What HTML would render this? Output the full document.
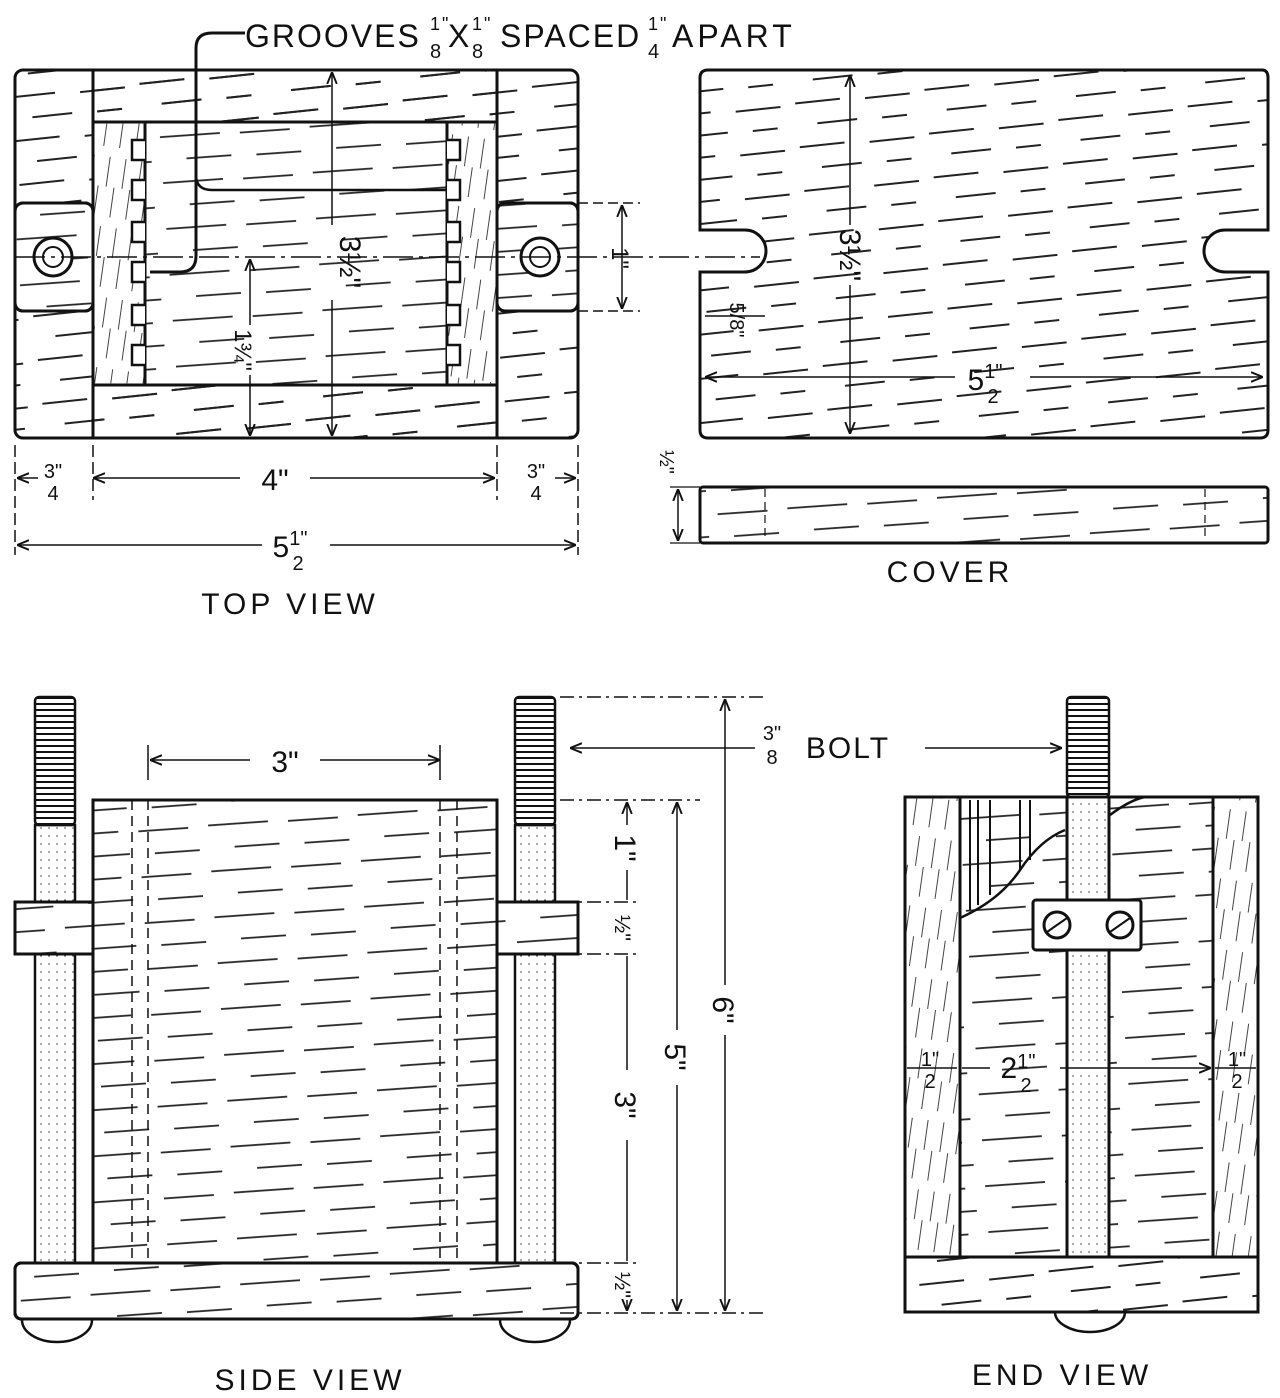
<!DOCTYPE html>
<html><head><meta charset="utf-8"><style>
html,body{margin:0;padding:0;background:#fff;}
svg{display:block}
text{font-family:"Liberation Sans",sans-serif;fill:#111;}
</style></head><body>
<svg width="1280" height="1398" viewBox="0 0 1280 1398" xmlns="http://www.w3.org/2000/svg">
<defs>
<pattern id="gh" width="130" height="44" patternUnits="userSpaceOnUse" patternTransform="rotate(-6)">
<path d="M0 10 H45 M70 12 H115 M20 32 H60 M85 33 H110" stroke="#222" stroke-width="2" fill="none"/>
</pattern>
<pattern id="gh2" width="150" height="46" patternUnits="userSpaceOnUse" patternTransform="rotate(-4)">
<path d="M0 10 H60 M80 11 H130 M25 33 H70 M95 34 H140" stroke="#222" stroke-width="1.8" fill="none"/>
</pattern>
<pattern id="gv" width="16" height="70" patternUnits="userSpaceOnUse" patternTransform="rotate(8)">
<path d="M3 0 V30 M11 30 V60" stroke="#444" stroke-width="1" fill="none"/>
</pattern>
<pattern id="thread" width="40" height="6" patternUnits="userSpaceOnUse">
<path d="M0 2 H40" stroke="#111" stroke-width="2"/>
</pattern>
<pattern id="ticks" width="8" height="8" patternUnits="userSpaceOnUse">
<path d="M0 4 H2" stroke="#555" stroke-width="1"/>
</pattern>
<marker id="ar" viewBox="0 0 10 10" refX="10" refY="5" markerWidth="8" markerHeight="8" orient="auto-start-reverse"><path d="M0 1 L10 5 L0 9" fill="none" stroke="#111" stroke-width="1.6"/></marker>
</defs>
<g stroke="#111" fill="none" stroke-width="3">
<rect x="15" y="70" width="563" height="368" rx="8" fill="url(#gh)"/>
<rect x="93" y="70" width="404" height="52" fill="url(#gh)"/>
<rect x="93" y="385" width="404" height="53" fill="url(#gh)"/>
<rect x="93" y="122" width="52" height="263" fill="#fff"/>
<rect x="93" y="122" width="52" height="263" fill="url(#gv)" stroke-width="2"/>
<rect x="447" y="122" width="50" height="263" fill="#fff"/>
<rect x="447" y="122" width="50" height="263" fill="url(#gv)" stroke-width="2"/>
<rect x="145" y="122" width="302" height="263" fill="#fff"/>
<rect x="145" y="122" width="302" height="263" fill="url(#gh2)"/>
<rect x="15" y="203" width="78" height="108" rx="8" fill="#fff"/>
<rect x="15" y="203" width="78" height="108" rx="8" fill="url(#gh2)"/>
<rect x="497" y="203" width="81" height="108" rx="8" fill="#fff"/>
<rect x="497" y="203" width="81" height="108" rx="8" fill="url(#gh2)"/>
<line x1="93" y1="70" x2="93" y2="438"/><line x1="497" y1="70" x2="497" y2="438"/>
<circle cx="53" cy="257" r="19" fill="#fff"/><circle cx="53" cy="257" r="10" stroke-width="2"/>
<circle cx="540" cy="257" r="19" fill="#fff"/><circle cx="540" cy="257" r="10" stroke-width="2"/>
<path d="M145 140 H132 V160 H145 M145 180 H132 V200 H145 M145 222 H132 V242 H145 M145 262 H132 V282 H145 M145 305 H132 V325 H145 M145 345 H132 V365 H145" stroke-width="2.5" fill="#fff"/>
<path d="M447 140 H460 V160 H447 M447 180 H460 V200 H447 M447 222 H460 V242 H447 M447 262 H460 V282 H447 M447 305 H460 V325 H447 M447 345 H460 V365 H447" stroke-width="2.5" fill="#fff"/>
<path d="M150 272 H180 Q196 272 196 256 V48 Q196 33 212 33 H245" stroke-width="3"/>
<path d="M196 175 Q196 190 212 190 H447" stroke-width="2.5"/>
<path d="M15 257 H760" stroke-width="1.5" stroke-dasharray="30 6 4 6"/>
<line x1="332" y1="72" x2="332" y2="225" stroke-width="1.5" marker-start="url(#ar)"/>
<line x1="332" y1="300" x2="332" y2="436" stroke-width="1.5" marker-end="url(#ar)"/>
<line x1="250" y1="259" x2="250" y2="325" stroke-width="1.5" marker-start="url(#ar)"/>
<line x1="250" y1="375" x2="250" y2="436" stroke-width="1.5" marker-end="url(#ar)"/>
<path d="M578 203 H640 M578 311 H640" stroke-width="1.5" stroke-dasharray="10 5"/>
<line x1="622" y1="205" x2="622" y2="309" stroke-width="1.5" marker-start="url(#ar)" marker-end="url(#ar)"/>
<path d="M15 445 V555 M93 445 V500 M497 445 V500 M578 445 V555" stroke-width="1.5" stroke-dasharray="12 5"/>
<line x1="17" y1="478" x2="38" y2="478" stroke-width="1.5" marker-start="url(#ar)"/>
<line x1="93" y1="478" x2="240" y2="478" stroke-width="1.5" marker-start="url(#ar)"/>
<line x1="310" y1="478" x2="495" y2="478" stroke-width="1.5" marker-end="url(#ar)"/>
<line x1="555" y1="478" x2="576" y2="478" stroke-width="1.5" marker-end="url(#ar)"/>
<line x1="17" y1="545" x2="262" y2="545" stroke-width="1.5" marker-start="url(#ar)"/>
<line x1="330" y1="545" x2="576" y2="545" stroke-width="1.5" marker-end="url(#ar)"/>
<path d="M708 70 H1262 Q1268 70 1268 78 V230 H1225 A20 20 0 0 0 1225 272 H1268 V430 Q1268 438 1260 438 H708 Q700 438 700 430 V272 H745 A20 20 0 0 0 745 230 H700 V78 Q700 70 708 70 Z" fill="url(#gh)"/>
<line x1="850" y1="75" x2="850" y2="225" stroke-width="1.5" marker-start="url(#ar)"/>
<line x1="850" y1="285" x2="850" y2="434" stroke-width="1.5" marker-end="url(#ar)"/>
<line x1="705" y1="377" x2="955" y2="377" stroke-width="1.5" marker-start="url(#ar)"/>
<line x1="1030" y1="377" x2="1263" y2="377" stroke-width="1.5" marker-end="url(#ar)"/>
<line x1="705" y1="316" x2="765" y2="316" stroke-width="1.5"/>
<rect x="700" y="487" width="568" height="56" rx="3" fill="url(#gh2)"/>
<path d="M765 489 V541 M1205 489 V541" stroke-width="1.2" stroke-dasharray="8 5"/>
<line x1="678" y1="489" x2="678" y2="541" stroke-width="1.5" marker-start="url(#ar)" marker-end="url(#ar)"/>
<path d="M670 487 H700 M670 543 H700" stroke-width="1.2"/>
<rect x="35" y="697" width="40" height="128" fill="url(#thread)" stroke-width="2.5" rx="4"/>
<rect x="35" y="825" width="40" height="440" fill="url(#ticks)" stroke-width="2.5"/>
<rect x="515" y="697" width="40" height="128" fill="url(#thread)" stroke-width="2.5" rx="4"/>
<rect x="515" y="825" width="40" height="440" fill="url(#ticks)" stroke-width="2.5"/>
<rect x="93" y="800" width="404" height="465" fill="#fff"/>
<rect x="93" y="800" width="404" height="465" fill="url(#gh2)"/>
<path d="M132 800 V1262 M148 800 V1262 M440 800 V1262 M457 800 V1262" stroke-width="1.5" stroke-dasharray="10 6"/>
<rect x="15" y="902" width="78" height="52" fill="#fff"/>
<rect x="15" y="902" width="78" height="52" fill="url(#gh2)"/>
<rect x="497" y="902" width="81" height="52" fill="#fff"/>
<rect x="497" y="902" width="81" height="52" fill="url(#gh2)"/>
<rect x="15" y="1263" width="563" height="56" rx="6" fill="#fff"/>
<rect x="15" y="1263" width="563" height="56" rx="6" fill="url(#gh2)"/>
<path d="M22 1320 A35 22 0 0 0 92 1320 M500 1320 A35 22 0 0 0 570 1320" stroke-width="2.5"/>
<line x1="150" y1="760" x2="250" y2="760" stroke-width="1.5" marker-start="url(#ar)"/>
<line x1="320" y1="760" x2="440" y2="760" stroke-width="1.5" marker-end="url(#ar)"/>
<path d="M148 745 V780 M440 745 V780" stroke-width="1.5"/>
<path d="M560 697 H765 M560 800 H700 M560 902 H640 M560 954 H640 M560 1263 H640 M560 1313 H765" stroke-width="1.5" stroke-dasharray="14 5 3 5"/>
<line x1="627" y1="802" x2="627" y2="825" stroke-width="1.5" marker-start="url(#ar)"/>
<line x1="627" y1="870" x2="627" y2="900" stroke-width="1.5"/>
<line x1="627" y1="956" x2="627" y2="1070" stroke-width="1.5"/>
<line x1="627" y1="1140" x2="627" y2="1261" stroke-width="1.5"/>
<line x1="627" y1="1300" x2="627" y2="1311" stroke-width="1.5" marker-end="url(#ar)"/>
<line x1="677" y1="802" x2="677" y2="1030" stroke-width="1.5" marker-start="url(#ar)"/>
<line x1="677" y1="1085" x2="677" y2="1311" stroke-width="1.5" marker-end="url(#ar)"/>
<line x1="725" y1="699" x2="725" y2="985" stroke-width="1.5" marker-start="url(#ar)"/>
<line x1="725" y1="1035" x2="725" y2="1311" stroke-width="1.5" marker-end="url(#ar)"/>
<line x1="570" y1="748" x2="755" y2="748" stroke-width="1.5" marker-start="url(#ar)"/>
<line x1="925" y1="748" x2="1062" y2="748" stroke-width="1.5" marker-end="url(#ar)"/>
<rect x="905" y="797" width="353" height="515" fill="url(#gh2)"/>
<rect x="905" y="797" width="55" height="460" fill="#fff"/>
<rect x="905" y="797" width="55" height="460" fill="url(#gv)"/>
<rect x="1213" y="797" width="45" height="460" fill="#fff"/>
<rect x="1213" y="797" width="45" height="460" fill="url(#gv)"/>
<rect x="905" y="1257" width="353" height="55" fill="#fff"/>
<rect x="905" y="1257" width="353" height="55" fill="url(#gh)"/>
<rect x="905" y="797" width="353" height="515"/>
<path d="M960 797 V918 Q1000 900 1020 870 Q1040 840 1065 830 M1110 815 Q1130 800 1145 797" stroke-width="2.5"/>
<path d="M970 800 V910 M978 800 V905 M990 800 V895 M1020 800 V870 M1030 800 V860" stroke-width="2"/>
<rect x="1067" y="697" width="42" height="100" fill="url(#thread)" stroke-width="2.5" rx="4"/>
<rect x="1067" y="797" width="42" height="460" fill="#fff"/>
<rect x="1067" y="797" width="42" height="460" fill="url(#ticks)" stroke-width="2.5"/>
<rect x="1033" y="900" width="108" height="50" rx="3" fill="#fff"/>
<circle cx="1057" cy="925" r="13"/><circle cx="1120" cy="925" r="13"/>
<path d="M1047 932 L1067 918 M1110 932 L1130 918" stroke-width="2"/>
<line x1="907" y1="1068" x2="957" y2="1068" stroke-width="1.5"/>
<line x1="962" y1="1068" x2="990" y2="1068" stroke-width="1.5"/>
<line x1="1060" y1="1068" x2="1211" y2="1068" stroke-width="1.5" marker-end="url(#ar)"/>
<line x1="1215" y1="1068" x2="1256" y2="1068" stroke-width="1.5"/>
<path d="M1055 1312 A35 20 0 0 0 1125 1312" stroke-width="2.5"/>
</g>
<g font-size="32" letter-spacing="2">
<text x="245" y="47">GROOVES</text>
<text x="430" y="30" font-size="18">1"</text><text x="430" y="58" font-size="20">8</text>
<text x="448" y="47">X</text>
<text x="472" y="30" font-size="18">1"</text><text x="472" y="58" font-size="20">8</text>
<text x="500" y="47">SPACED</text>
<text x="648" y="30" font-size="18">1"</text><text x="648" y="58" font-size="20">4</text>
<text x="672" y="47" letter-spacing="4">APART</text>
</g>
<g font-size="30" text-anchor="middle">
<text x="275" y="490">4"</text>
<text x="53" y="478" font-size="20">3"</text><text x="53" y="500" font-size="20">4</text>
<text x="536" y="478" font-size="20">3"</text><text x="536" y="500" font-size="20">4</text>
<text x="290" y="557">5<tspan font-size="20" dy="-12">1"</tspan></text>
<text x="298" y="570" font-size="20">2</text>
<text x="290" y="614" letter-spacing="4">TOP VIEW</text>
<text x="950" y="582" letter-spacing="4">COVER</text>
<text x="985" y="390">5<tspan font-size="20" dy="-12">1"</tspan></text><text x="993" y="403" font-size="20">2</text>
<text x="285" y="772">3"</text>
<text x="848" y="758" letter-spacing="2">BOLT</text>
<text x="1062" y="1385" letter-spacing="4">END VIEW</text>
<text x="310" y="1390" letter-spacing="4">SIDE VIEW</text>
<text x="1018" y="1078">2<tspan font-size="20" dy="-10">1"</tspan></text><text x="1026" y="1092" font-size="20">2</text>
<text x="930" y="1066" font-size="20">1"</text><text x="930" y="1088" font-size="20">2</text>
<text x="1237" y="1066" font-size="20">1"</text><text x="1237" y="1088" font-size="20">2</text>
<text transform="translate(340,262) rotate(90)">3½"</text>
<text transform="translate(840,255) rotate(90)">3½"</text>
<text transform="translate(235,350) rotate(90)" font-size="24">1¾"</text>
<text transform="translate(612,258) rotate(90)" font-size="24">1"</text>
<text transform="translate(730,320) rotate(90)" font-size="20">5/8"</text>
<text transform="translate(660,462) rotate(90)" font-size="20">½"</text>
<text transform="translate(615,848) rotate(90)">1"</text>
<text transform="translate(615,928) rotate(90)" font-size="22">½"</text>
<text transform="translate(615,1105) rotate(90)">3"</text>
<text transform="translate(615,1285) rotate(90)" font-size="22">½"</text>
<text transform="translate(665,1057) rotate(90)">5"</text>
<text transform="translate(713,1010) rotate(90)">6"</text>
</g>
<text x="772" y="740" font-size="20" text-anchor="middle">3"</text><text x="772" y="764" font-size="20" text-anchor="middle">8</text>
</svg>
</body></html>
